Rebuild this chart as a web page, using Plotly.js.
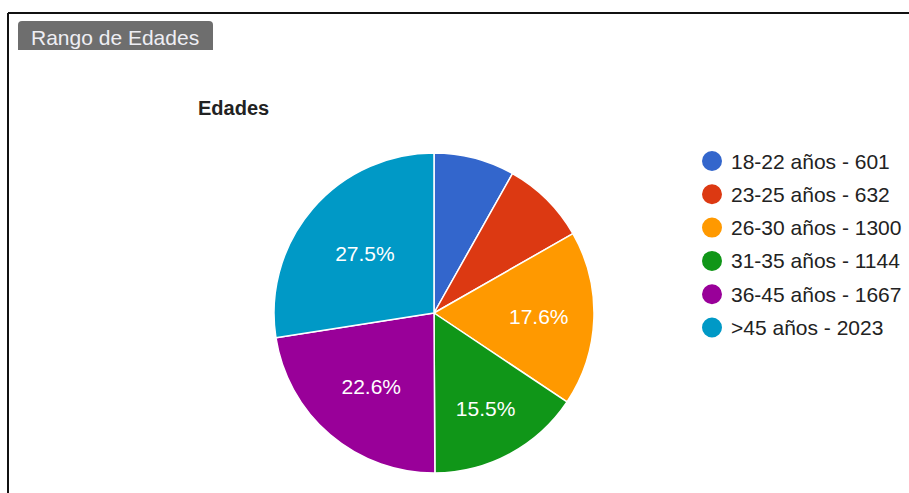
<!DOCTYPE html>
<html>
<head>
<meta charset="utf-8">
<script src="https://cdn.plot.ly/plotly-3.0.1.min.js"></script>
<style>
  html, body { margin: 0; padding: 0; background: #ffffff; }
  #chart { width: 909px; height: 493px; }
</style>
</head>
<body>
<div id="chart"></div>
<script>
// Age ranges and counts
const ageRanges = ['18-22 años', '23-25 años', '26-30 años', '31-35 años', '36-45 años', '>45 años'];
const counts = [601, 632, 1300, 1144, 1667, 2023];
const sliceColors = ['#3366cc', '#dc3912', '#ff9900', '#109618', '#990099', '#0099c6'];
const panelTitle = 'Rango de Edades';
const chartTitle = 'Edades';

const W = 909, H = 493;
const FONT = 'Arial, "Liberation Sans", sans-serif';

// Small slices carry no inside label
const total = counts.reduce((a, b) => a + b, 0);
const templates = counts.map(v => (v / total < 0.1 ? '' : '%{percent:.1%}'));

// Pie geometry (pixels)
const cx = 434, cy = 313, r = 160;

const pie = {
  type: 'pie',
  labels: ageRanges,
  values: counts,
  sort: false,
  direction: 'clockwise',
  rotation: 0,
  marker: { colors: sliceColors, line: { color: '#ffffff', width: 1.5 } },
  texttemplate: templates,
  textposition: 'inside',
  insidetextorientation: 'horizontal',
  insidetextfont: { color: '#ffffff', size: 21, family: FONT },
  hoverinfo: 'label+value+percent',
  showlegend: false,
  domain: { x: [(cx - r) / W, (cx + r) / W], y: [1 - (cy + r) / H, 1 - (cy - r) / H] }
};

// Legend: circle markers with "range - count" labels
const legX = 712, legY0 = 161, legStep = 33.3, dotR = 10;
const shapes = [];
const annotations = [];
ageRanges.forEach((name, i) => {
  const y = legY0 + i * legStep;
  shapes.push({
    type: 'circle', xref: 'paper', yref: 'paper',
    x0: (legX - dotR) / W, x1: (legX + dotR) / W,
    y0: 1 - (y + dotR) / H, y1: 1 - (y - dotR) / H,
    fillcolor: sliceColors[i], line: { width: 0 }
  });
  annotations.push({
    xref: 'paper', yref: 'paper', x: 729 / W, y: 1 - y / H,
    xanchor: 'left', yanchor: 'middle', showarrow: false,
    text: name + ' - ' + counts[i],
    font: { family: FONT, size: 21, color: '#222222' }
  });
});

// Outer frame (top and left edges)
shapes.push({ type: 'line', xref: 'paper', yref: 'paper', x0: 8 / W, x1: 1, y0: 1 - 13 / H, y1: 1 - 13 / H, line: { color: '#111111', width: 2 } });
shapes.push({ type: 'line', xref: 'paper', yref: 'paper', x0: 8 / W, x1: 8 / W, y0: 0, y1: 1 - 13 / H, line: { color: '#111111', width: 2 } });

// Grey tab with panel heading
shapes.push({
  type: 'path', xref: 'paper', yref: 'paper',
  path: (function () {
    const x0 = 18, x1 = 213, y0 = 21, y1 = 50, rr = 4;
    const px = v => v / W, py = v => 1 - v / H;
    return 'M ' + px(x0) + ',' + py(y1) +
      ' L ' + px(x0) + ',' + py(y0 + rr) +
      ' Q ' + px(x0) + ',' + py(y0) + ' ' + px(x0 + rr) + ',' + py(y0) +
      ' L ' + px(x1 - rr) + ',' + py(y0) +
      ' Q ' + px(x1) + ',' + py(y0) + ' ' + px(x1) + ',' + py(y0 + rr) +
      ' L ' + px(x1) + ',' + py(y1) + ' Z';
  })(),
  fillcolor: '#6e6e6e', line: { width: 0 }
});
annotations.push({
  xref: 'paper', yref: 'paper', x: 29 / W, y: 1 - 37 / H,
  xanchor: 'left', yanchor: 'middle', showarrow: false,
  text: panelTitle,
  font: { family: FONT, size: 21, color: '#eeeef4' }
});

const layout = {
  width: W, height: H,
  margin: { l: 0, r: 0, t: 0, b: 0 },
  paper_bgcolor: '#ffffff',
  plot_bgcolor: '#ffffff',
  showlegend: false,
  title: {
    text: '<b>' + chartTitle + '</b>',
    xref: 'container', yref: 'container',
    x: 198 / W, xanchor: 'left',
    y: 1 - 108 / H, yanchor: 'middle',
    font: { family: FONT, size: 20, color: '#222222' }
  },
  shapes: shapes,
  annotations: annotations
};

Plotly.newPlot('chart', [pie], layout, { displayModeBar: false, staticPlot: true });
</script>
</body>
</html>
